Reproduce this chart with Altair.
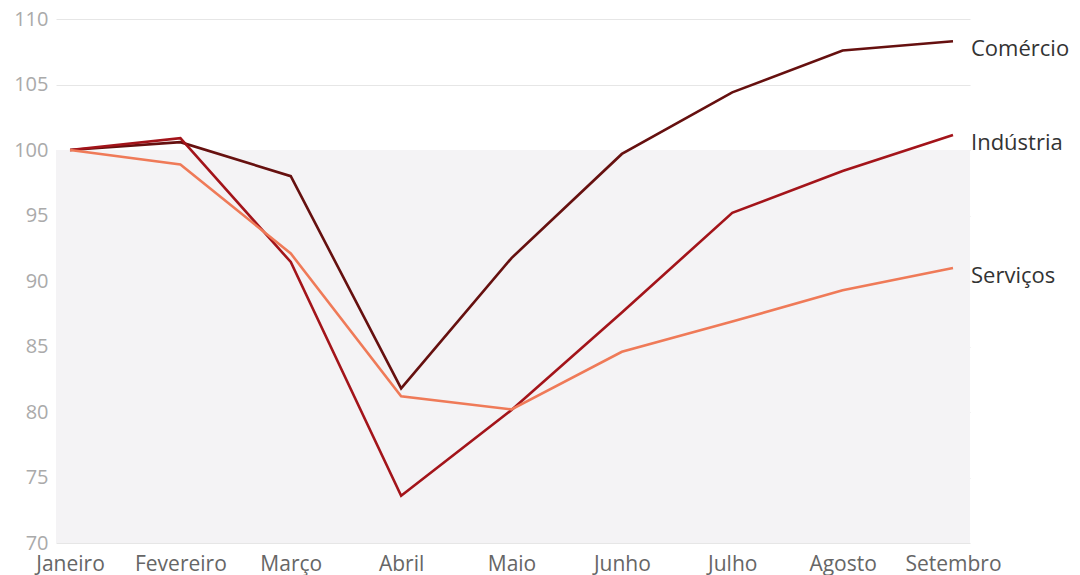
import altair as alt
import pandas as pd

months = ["Janeiro", "Fevereiro", "Março", "Abril", "Maio", "Junho", "Julho", "Agosto", "Setembro"]
comercio = [100, 100.6, 98.0, 81.8, 91.75, 99.7, 104.4, 107.6, 108.3]
industria = [100, 100.9, 91.45, 73.6, 80.15, 87.6, 95.2, 98.4, 101.15]
servicos = [100, 98.9, 92.1, 81.2, 80.2, 84.6, 86.9, 89.3, 91.0]
series = ["Comércio", "Indústria", "Serviços"]
colors = ["#66100f", "#a3141a", "#ef7a58"]

rows = []
for name, vals in zip(series, [comercio, industria, servicos]):
    for i, (m, v) in enumerate(zip(months, vals)):
        rows.append({"serie": name, "idx": i, "mes": m, "valor": v})
df = pd.DataFrame(rows)
last = df[df["idx"] == len(months) - 1]

W, H = 914, 524
label_expr = "[" + ",".join(f"'{m}'" for m in months) + "][datum.value]"

xscale = alt.Scale(domain=[-0.127, 8.154], nice=False, zero=False)
yscale = alt.Scale(domain=[70, 110], nice=False, zero=False)
cscale = alt.Scale(domain=series, range=colors)

yaxis = alt.Axis(values=list(range(70, 111, 5)), grid=True, gridColor="#e6e6e6",
                 domain=False, ticks=False, title=None, labelFont="Open Sans",
                 labelFontSize=20, labelColor="#aaaaaa", labelPadding=8)
xaxis = alt.Axis(values=list(range(len(months))), labelExpr=label_expr, grid=False,
                 domain=False, ticks=False, title=None, labelFont="Open Sans",
                 labelFontSize=21, labelColor="#666666", labelPadding=10,
                 labelFlush=False)

bg = alt.Chart(pd.DataFrame({"y0": [70], "y1": [100]})).mark_rect(color="#f4f3f5").encode(
    x=alt.value(0), x2=alt.value(W),
    y=alt.Y("y0:Q", scale=yscale, axis=yaxis), y2="y1:Q",
)

lines = alt.Chart(df).mark_line(strokeWidth=2.6).encode(
    x=alt.X("idx:Q", scale=xscale, axis=xaxis),
    y=alt.Y("valor:Q", scale=yscale, axis=yaxis),
    color=alt.Color("serie:N", scale=cscale, legend=None),
    detail="serie:N",
)

labels = alt.Chart(last).mark_text(align="left", dx=18, dy=8, font="Open Sans",
                                   fontSize=22, color="#333333").encode(
    x=alt.X("idx:Q", scale=xscale, axis=xaxis),
    y=alt.Y("valor:Q", scale=yscale, axis=yaxis),
    text="serie:N",
)

chart = alt.layer(bg, lines, labels).properties(
    width=W, height=H,
    background="white",
    view=alt.ViewBackground(stroke="transparent", strokeWidth=0),
    autosize=alt.AutoSizeParams(type="none"),
    padding={"left": 56, "top": 19, "right": 110, "bottom": 32},
).configure_view(stroke="transparent", strokeWidth=0)

chart.save("out.html", embed_options={"renderer": "svg", "actions": False})
